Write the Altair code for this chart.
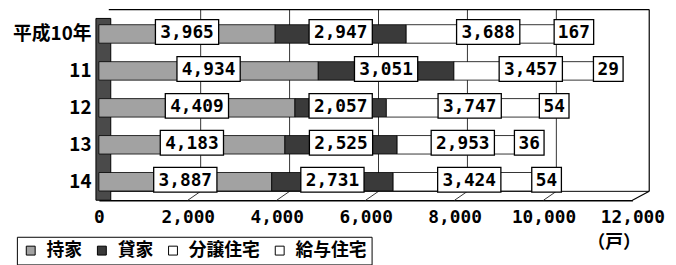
import altair as alt
import pandas as pd

years = ["平成10年", "11", "12", "13", "14"]
series = ["持家", "貸家", "分譲住宅", "給与住宅"]
mochiie = [3965, 4934, 4409, 4183, 3887]
kashiya = [2947, 3051, 2057, 2525, 2731]
bunjo = [3688, 3457, 3747, 2953, 3424]
kyuyo = [167, 29, 54, 36, 54]
x_ticks = [0, 2000, 4000, 6000, 8000, 10000, 12000]
colors = ["#a2a2a2", "#3a3a3a", "#ffffff", "#ffffff"]

rows = []
for si, (s, vals) in enumerate(zip(series, [mochiie, kashiya, bunjo, kyuyo])):
    for y, v in zip(years, vals):
        lab = f"{v:,}"
        rows.append({"year": y, "series": s, "idx": si, "value": v,
                     "lab": lab, "len": str(len(lab))})
df = pd.DataFrame(rows)
grid_df = pd.DataFrame({"g": x_ticks})
one = pd.DataFrame({"a": [0]})

W, H = 540, 187
DX, DY = 14, 9  # 3D depth offset

xscale = alt.Scale(domain=[0, 12000], nice=False, zero=True)
yscale = alt.Scale(domain=years, paddingInner=0.5, paddingOuter=0.25)

mono = "DejaVu Sans Mono"
jp = "Noto Sans CJK JP"

xaxis = alt.Axis(values=x_ticks, format=",d", grid=False, ticks=False,
                 domainColor="black", domainWidth=1.5, labelPadding=9,
                 labelFont=mono, labelFontSize=18, labelFontWeight="bold",
                 labelColor="black", labelFlush=False,
                 titleFont=jp, titleFontSize=18, titleFontWeight="bold",
                 titleColor="black", titleX=521, titleY=43,
                 titleAlign="center", titleBaseline="middle")
yaxis = alt.Axis(domain=False, ticks=False, labelPadding=8,
                 labelFont=jp, labelFontSize=19, labelFontWeight="bold",
                 labelColor="black")
XT = "（戸）"


def X(field, **kw):
    return alt.X(field, scale=xscale, axis=xaxis, title=XT, **kw)


def Y():
    return alt.Y("year:N", sort=years, scale=yscale, axis=yaxis, title=None)


# left wall
wall = alt.Chart(one).mark_rect(fill="#4a4a4a", stroke="black", strokeWidth=1).encode(
    x=alt.value(-3), x2=alt.value(12), y=alt.value(3), y2=alt.value(H)
)

# back wall frame lines
back_top = alt.Chart(one).mark_rule(color="black", strokeWidth=1.2).encode(
    x=alt.value(10), x2=alt.value(W + 17), y=alt.value(-6), y2=alt.value(-6)
)
back_right = alt.Chart(one).mark_rule(color="black", strokeWidth=1.2).encode(
    x=alt.value(W + 17), x2=alt.value(W + 17), y=alt.value(-6), y2=alt.value(H - DY)
)
floor_back = alt.Chart(one).mark_rule(color="black", strokeWidth=1).encode(
    x=alt.value(12), x2=alt.value(W + 17), y=alt.value(H - DY), y2=alt.value(H - DY)
)
floor_diag = alt.Chart(one).mark_rule(color="black", strokeWidth=1.2).encode(
    x=alt.value(W), x2=alt.value(W + 17), y=alt.value(H), y2=alt.value(H - DY)
)

grid = alt.Chart(grid_df).transform_filter("datum.g > 0 && datum.g < 12000").mark_rule(
    color="#333333", strokeWidth=1, xOffset=DX - 1
).encode(
    x=X("g:Q"),
    y=alt.value(-6), y2=alt.value(H - DY),
)
floor_ticks = alt.Chart(grid_df).transform_filter("datum.g > 0 && datum.g < 12000").mark_rule(
    color="#333333", strokeWidth=1, x2Offset=DX - 1
).encode(
    x=X("g:Q"), x2="g:Q",
    y=alt.value(H), y2=alt.value(H - DY),
)

bars = alt.Chart(df).mark_bar(stroke="black", strokeWidth=0.8).encode(
    y=Y(),
    x=X("value:Q", stack="zero"),
    fill=alt.Fill("series:N", sort=series,
                  scale=alt.Scale(domain=series, range=colors),
                  legend=alt.Legend(title=None, orient="none", legendX=-83, legendY=224,
                                    direction="horizontal", symbolType="square",
                                    symbolSize=81, symbolStrokeColor="black",
                                    symbolStrokeWidth=1, labelFont=jp,
                                    labelFontSize=18, labelFontWeight="bold",
                                    labelColor="black", columnPadding=11,
                                    labelOffset=7, padding=5, strokeColor="black",
                                    fillColor="white")),
    order=alt.Order("idx:Q"),
)

p5 = "M-32,-12.5H32V12.5H-32Z"
p3 = "M-20,-12.5H20V12.5H-20Z"
p2 = "M-15,-12.5H15V12.5H-15Z"

lab_base = alt.Chart(df).transform_stack(
    stack="value", as_=["x0", "x1"], groupby=["year"], sort=[alt.SortField("idx")]
).transform_calculate(mid="(datum.x0 + datum.x1) / 2")

boxes = lab_base.mark_point(filled=True, fill="white", stroke="black", strokeWidth=1.3,
                            size=4, opacity=1, yOffset=-2).encode(
    x=X("mid:Q"),
    y=Y(),
    shape=alt.Shape("len:N", scale=alt.Scale(domain=["5", "3", "2"], range=[p5, p3, p2]),
                    legend=None),
)
texts = lab_base.mark_text(font=mono, fontSize=18, fontWeight="bold", color="black",
                           baseline="middle", yOffset=-1).encode(
    x=X("mid:Q"),
    y=Y(),
    text="lab:N",
)

chart = alt.layer(
    wall, grid, floor_ticks, back_top, back_right, floor_back, floor_diag,
    bars, boxes, texts
).properties(
    width=W, height=H,
    autosize=alt.AutoSizeParams(type="none"),
    padding={"left": 92, "top": 6, "right": 36, "bottom": 64},
).configure_view(stroke=None).resolve_scale(shape="independent")

chart.save("out.html", embed_options={"renderer": "svg", "actions": False})
